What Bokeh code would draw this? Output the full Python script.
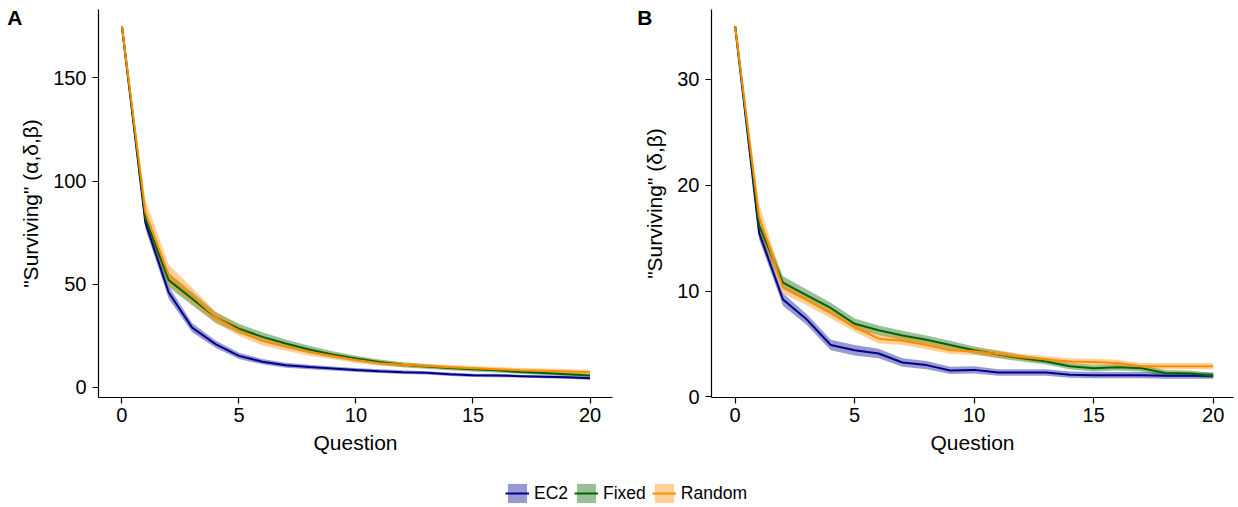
from bokeh.plotting import figure
from bokeh.models import Range1d, FixedTicker, Legend, LegendItem, ColumnDataSource, LinearAxis
from bokeh.layouts import column, row
from bokeh.embed import file_html
from bokeh.resources import INLINE

# ---------------- data ----------------
question = list(range(21))
series_names = ["EC2", "Fixed", "Random"]

ec2_a = [175, 80, 46, 29, 21, 15.3, 12.5, 10.8, 9.9, 9.2, 8.5, 7.9, 7.4, 7.1, 6.4, 5.9, 5.8, 5.5, 5.2, 4.9, 4.5]
fixed_a = [175, 82, 52, 43, 34, 28.5, 24.5, 21.3, 18.4, 16, 14, 12.3, 11, 10.2, 9.4, 8.8, 8.3, 7.5, 7, 6.4, 5.8]
random_a = [175, 85, 54.5, 44.5, 34, 27.5, 22.5, 19.8, 17.2, 15.3, 13.3, 11.8, 11, 10.4, 9.8, 9.3, 8.8, 8.4, 8.1, 7.8, 7.4]
ec2_a_ci = [0.3, 3, 3, 2.2, 1.8, 1.5, 1.3, 1.2, 1.1, 1, 1, 0.9, 0.9, 0.8, 0.8, 0.8, 0.8, 0.7, 0.7, 0.7, 0.7]
fixed_a_ci = [0.3, 3, 3.5, 3.2, 2.6, 2.4, 2.2, 2, 1.8, 1.6, 1.4, 1.3, 1.2, 1.1, 1, 1, 1, 0.9, 0.9, 0.9, 0.9]
random_a_ci = [0.3, 6, 5, 3.8, 2.8, 2.4, 2.2, 2, 1.8, 1.6, 1.4, 1.3, 1.2, 1.1, 1.1, 1.1, 1.1, 1.1, 1.1, 1.1, 1.1]

ec2_b = [35, 15.5, 9.2, 7.3, 4.9, 4.4, 4.1, 3.25, 3.0, 2.5, 2.55, 2.3, 2.3, 2.3, 2.1, 2.05, 2.05, 2.05, 2.0, 2.0, 2.0]
fixed_b = [35, 16.2, 10.8, 9.6, 8.4, 6.9, 6.3, 5.8, 5.4, 4.9, 4.4, 4.0, 3.65, 3.35, 2.9, 2.7, 2.8, 2.7, 2.25, 2.2, 2.0]
random_b = [35, 17.0, 10.35, 9.15, 7.9, 6.6, 5.5, 5.3, 4.9, 4.4, 4.3, 4.05, 3.75, 3.55, 3.35, 3.3, 3.2, 2.9, 2.9, 2.9, 2.9]
ec2_b_ci = [0.1, 0.6, 0.6, 0.5, 0.5, 0.5, 0.45, 0.4, 0.4, 0.35, 0.35, 0.3, 0.3, 0.3, 0.3, 0.3, 0.3, 0.3, 0.3, 0.3, 0.3]
fixed_b_ci = [0.1, 0.8, 0.6, 0.55, 0.5, 0.5, 0.45, 0.45, 0.4, 0.4, 0.35, 0.35, 0.3, 0.3, 0.3, 0.3, 0.3, 0.3, 0.3, 0.3, 0.25]
random_b_ci = [0.1, 1.3, 0.6, 0.5, 0.5, 0.45, 0.45, 0.4, 0.4, 0.35, 0.35, 0.35, 0.3, 0.3, 0.3, 0.3, 0.3, 0.3, 0.3, 0.3, 0.3]

x_ticks = [0, 5, 10, 15, 20]
y_ticks_a = [0, 50, 100, 150]
y_ticks_b = [0, 10, 20, 30]

colors = ["#00008B", "#006400", "#FF8C00"]
FONT = "Liberation Sans"


def make_panel(means, cis, xr, yr, yticks, ylabel, letter, letter_y, letter_shift, width, bl, br):
    p = figure(width=width, height=462, x_range=Range1d(*xr), y_range=Range1d(*yr),
               output_backend="svg", toolbar_location=None,
               min_border_left=bl, min_border_right=br, min_border_top=9, min_border_bottom=65)
    p.outline_line_color = None
    p.xgrid.visible = False
    p.ygrid.visible = False
    # ribbons first, then lines
    for m, c, col in zip(means, cis, colors):
        lo = [a - b for a, b in zip(m, c)]
        hi = [a + b for a, b in zip(m, c)]
        p.varea(x=question, y1=lo, y2=hi, fill_color=col, fill_alpha=0.4)
    for m, col in zip(means, colors):
        p.line(x=question, y=m, line_color=col, line_width=2)
    p.xaxis.ticker = FixedTicker(ticks=x_ticks)
    p.yaxis.ticker = FixedTicker(ticks=yticks)
    p.xaxis.axis_label = "Question"
    p.yaxis.axis_label = ylabel
    for ax in (p.xaxis[0], p.yaxis[0]):
        ax.axis_line_color = "black"
        ax.axis_line_width = 1.2
        ax.major_tick_line_color = "black"
        ax.major_tick_line_width = 1.2
        ax.major_tick_out = 6
        ax.major_tick_in = 0
        ax.minor_tick_line_color = None
        ax.major_label_text_font = FONT
        ax.major_label_text_font_size = "20px"
        ax.major_label_text_color = "black"
        ax.axis_label_text_font = FONT
        ax.axis_label_text_font_size = "21px"
        ax.axis_label_text_font_style = "normal"
        ax.axis_label_text_color = "black"
    p.xaxis.major_label_standoff = 4
    p.xaxis.axis_label_standoff = 6
    p.yaxis.major_label_standoff = 6
    p.yaxis.axis_label_standoff = 8
    # panel letter, drawn as the single label of an extra outer left axis
    lax = LinearAxis(ticker=FixedTicker(ticks=[letter_y]), major_label_overrides={letter_y: letter},
                     axis_line_color=None, major_tick_line_color=None, minor_tick_line_color=None,
                     major_tick_out=0, major_tick_in=0, major_label_standoff=letter_shift,
                     major_label_text_font=FONT, major_label_text_font_size="21px",
                     major_label_text_font_style="bold", major_label_text_color="black")
    p.add_layout(lax, "left")
    return p


pA = make_panel([ec2_a, fixed_a, random_a], [ec2_a_ci, fixed_a_ci, random_a_ci],
                (-1.0, 20.96), (-4.85, 183.1), y_ticks_a, '"Surviving" (\u03b1,\u03b4,\u03b2)',
                "A", 179, -6, 620, 98, 8)
pB = make_panel([ec2_b, fixed_b, random_b], [ec2_b_ci, fixed_b_ci, random_b_ci],
                (-0.99, 20.85), (-0.06, 36.6), y_ticks_b, '"Surviving" (\u03b4,\u03b2)',
                "B", 35.8, -12, 618, 91, 5)

# legend figure (proxy renderers kept outside the visible range)
pL = figure(width=1238, height=45, x_range=Range1d(100, 101), y_range=Range1d(1000, 1001),
            output_backend="svg", toolbar_location=None,
            min_border_left=0, min_border_right=0, min_border_top=0, min_border_bottom=0)
pL.axis.visible = False
pL.xgrid.visible = False
pL.ygrid.visible = False
pL.outline_line_color = None
items = []
for name, col, m, c in zip(series_names, colors, [ec2_a, fixed_a, random_a], [ec2_a_ci, fixed_a_ci, random_a_ci]):
    src = ColumnDataSource(data=dict(x=question, y=m,
                                     y1=[a - b for a, b in zip(m, c)],
                                     y2=[a + b for a, b in zip(m, c)]))
    ra = pL.varea(x="x", y1="y1", y2="y2", source=src, fill_color=col, fill_alpha=0.4)
    rl = pL.line(x="x", y="y", source=src, line_color=col, line_width=2)
    items.append(LegendItem(label=name, renderers=[ra, rl]))
leg = Legend(items=items, orientation="horizontal", location=(505, 2),
             glyph_width=24, glyph_height=24, label_standoff=5, spacing=6, padding=0, margin=0,
             label_text_font=FONT, label_text_font_size="17.5px", label_text_color="black",
             border_line_color=None, background_fill_alpha=0)
pL.add_layout(leg)

layout = column(row(pA, pB), pL)
open("out.html", "w").write(file_html(layout, INLINE))
